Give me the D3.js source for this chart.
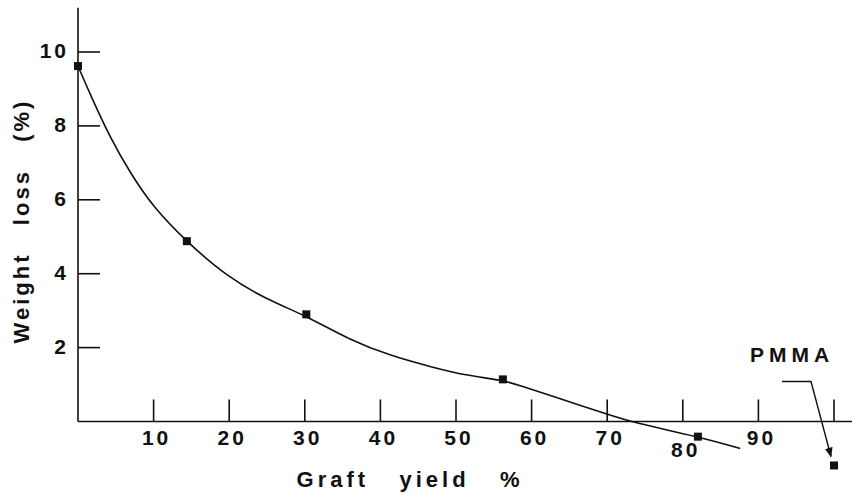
<!DOCTYPE html>
<html>
<head>
<meta charset="utf-8">
<script src="https://cdn.jsdelivr.net/npm/d3@7"></script>
<style>
  body { margin: 0; background: #fff; }
  svg { display: block; }
  text { font-family: "Liberation Sans", Arial, sans-serif; fill: #111; font-weight: bold; white-space: pre; }
  .tick-label { font-size: 21px; letter-spacing: 3px; }
  .y-title { font-size: 22px; letter-spacing: 3px; }
  .x-title { font-size: 22px; letter-spacing: 4px; }
  .pmma { font-size: 21px; letter-spacing: 5px; }
</style>
</head>
<body>
<svg id="chart"></svg>
<script>
// Define framework dimensions

const width = 852;
const height = 493;

// Data

const graftYield = [0, 14.4, 30.2, 56.2, 82.0];
const weightLoss = [9.62, 4.88, 2.9, 1.14, -0.41];

const pmmaYield = 100;
const pmmaLoss = -1.19;

// hand drawn curve through the points
const curveYield = [0, 1.6, 4.2, 6.9, 9.9, 14.4, 19.7, 25, 30.2, 36, 41.3, 47, 51.5, 56.2, 58.5, 62.8, 70.1, 73.4, 82, 87.6];
const curveLoss = [9.62, 8.86, 7.7, 6.73, 5.81, 4.86, 3.92, 3.3, 2.86, 2.2, 1.78, 1.46, 1.24, 1.12, 0.97, 0.68, 0.19, -0.03, -0.41, -0.73];

const xTicks = [10, 20, 30, 40, 50, 60, 70, 80, 90, 100];
const xTickLabels = ["10", "20", "30", "40", "50", "60", "70", "80", "90", ""];
const yTicks = [2, 4, 6, 8, 10];

// Scales

const x = d3.scaleLinear().domain([0, 100]).range([78, 834]);
const y = d3.scaleLinear().domain([0, 10]).range([421.5, 52]);

function draw() {

  var svg = d3.select("#chart")
    .attr("width", width)
    .attr("height", height);

  // axis lines
  svg.append("line")
    .attr("x1", x(0)).attr("x2", x(0))
    .attr("y1", y(11.2)).attr("y2", y(0))
    .attr("stroke", "#111").attr("stroke-width", 1.6);

  svg.append("line")
    .attr("x1", x(0)).attr("x2", x(102.6))
    .attr("y1", y(0)).attr("y2", y(0))
    .attr("stroke", "#111").attr("stroke-width", 1.6);

  // y ticks (drawn inward)
  svg.append("g").selectAll("line")
    .data(yTicks)
    .enter()
    .append("line")
    .attr("x1", x(0)).attr("x2", x(0) + 22)
    .attr("y1", (d) => y(d)).attr("y2", (d) => y(d))
    .attr("stroke", "#111").attr("stroke-width", 1.6);

  svg.append("g").selectAll("text")
    .data(yTicks)
    .enter()
    .append("text")
    .attr("class", "tick-label")
    .attr("text-anchor", "end")
    .attr("x", x(0) - 9)
    .attr("y", (d) => y(d) + 6)
    .text((d) => d);

  // x ticks (drawn upward)
  svg.append("g").selectAll("line")
    .data(xTicks)
    .enter()
    .append("line")
    .attr("x1", (d) => x(d)).attr("x2", (d) => x(d))
    .attr("y1", y(0)).attr("y2", y(0) - 22)
    .attr("stroke", "#111").attr("stroke-width", 1.6);

  svg.append("g").selectAll("text")
    .data(xTicks)
    .enter()
    .append("text")
    .attr("class", "tick-label")
    .attr("text-anchor", "middle")
    .attr("x", (d) => x(d) + 3)
    .attr("y", (d) => d === 80 ? 457 : 445)
    .text((d, i) => xTickLabels[i]);

  // axis titles
  svg.append("text")
    .attr("class", "y-title")
    .attr("text-anchor", "middle")
    .attr("transform", "translate(29, 221) rotate(-90)")
    .text("Weight   loss   (%)");

  svg.append("text")
    .attr("class", "x-title")
    .attr("text-anchor", "middle")
    .attr("x", 410)
    .attr("y", 487)
    .text("Graft   yield   %");

  // curve
  var line = d3.line()
    .x((d) => x(d[0]))
    .y((d) => y(d[1]))
    .curve(d3.curveBasis);

  svg.append("path")
    .datum(d3.zip(curveYield, curveLoss))
    .attr("d", line)
    .attr("fill", "none")
    .attr("stroke", "#111")
    .attr("stroke-width", 1.6);

  // square markers
  var s = 8;
  svg.append("g").selectAll("rect")
    .data(d3.zip(graftYield, weightLoss).concat([[pmmaYield, pmmaLoss]]))
    .enter()
    .append("rect")
    .attr("x", (d) => x(d[0]) - s / 2)
    .attr("y", (d) => y(d[1]) - s / 2)
    .attr("width", s)
    .attr("height", s)
    .attr("fill", "#111");

  // PMMA label and leader arrow
  svg.append("defs").append("marker")
    .attr("id", "arrow")
    .attr("viewBox", "0 0 10 10")
    .attr("refX", 9).attr("refY", 5)
    .attr("markerWidth", 7).attr("markerHeight", 7)
    .attr("orient", "auto")
    .append("path")
    .attr("d", "M0,1 L10,5 L0,9 z")
    .attr("fill", "#111");

  var px = x(pmmaYield), py = y(pmmaLoss);

  svg.append("path")
    .attr("d", "M" + (px - 52) + "," + (py - 84) + " H" + (px - 23) + " L" + (px - 3) + "," + (py - 9))
    .attr("fill", "none")
    .attr("stroke", "#111")
    .attr("stroke-width", 1.4)
    .attr("marker-end", "url(#arrow)");

  svg.append("text")
    .attr("class", "pmma")
    .attr("text-anchor", "middle")
    .attr("x", px - 42)
    .attr("y", py - 103)
    .text("PMMA");
}

draw();
</script>
</body>
</html>
